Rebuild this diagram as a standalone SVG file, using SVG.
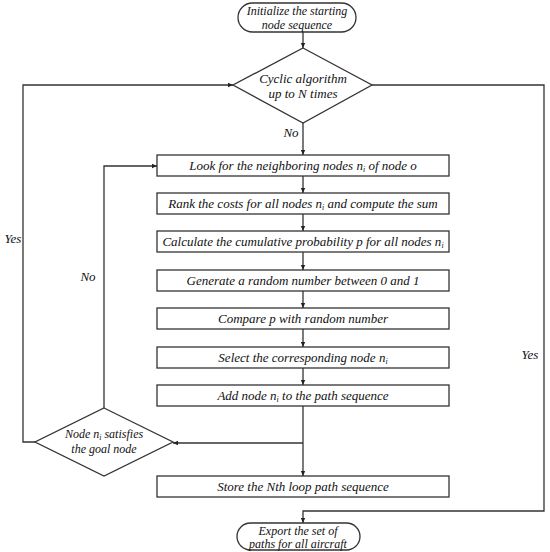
<svg xmlns="http://www.w3.org/2000/svg" width="550" height="552" viewBox="0 0 550 552">
<defs>
<marker id="ah" markerWidth="6" markerHeight="6" refX="5" refY="3" orient="auto" markerUnits="userSpaceOnUse">
<path d="M0,0.8 L5,3 L0,5.2 Z" fill="#222"/>
</marker>
<style>
.box{fill:#fff;stroke:#333;stroke-width:1.3}
.ln{fill:none;stroke:#333;stroke-width:1.3}
text{font-family:"Liberation Serif","Times New Roman",serif;font-style:italic;font-size:13px;fill:#111;text-anchor:middle}
.sm{font-size:12px}
.sub{font-size:8px}
</style>
</defs>
<rect width="550" height="552" fill="#fff"/>
<g id="connectors">
<line class="ln" x1="303" y1="32" x2="303" y2="48" marker-end="url(#ah)"/>
<line class="ln" x1="303" y1="123" x2="303" y2="155" marker-end="url(#ah)"/>
<line class="ln" x1="303" y1="176" x2="303" y2="193" marker-end="url(#ah)"/>
<line class="ln" x1="303" y1="214" x2="303" y2="231" marker-end="url(#ah)"/>
<line class="ln" x1="303" y1="252" x2="303" y2="270" marker-end="url(#ah)"/>
<line class="ln" x1="303" y1="291" x2="303" y2="308" marker-end="url(#ah)"/>
<line class="ln" x1="303" y1="329" x2="303" y2="347" marker-end="url(#ah)"/>
<line class="ln" x1="303" y1="368" x2="303" y2="385" marker-end="url(#ah)"/>
<line class="ln" x1="303" y1="406" x2="303" y2="476" marker-end="url(#ah)"/>
<polyline class="ln" points="303,443 173,443" marker-end="url(#ah)"/>
<polyline class="ln" points="104,408 104,166 157,166" marker-end="url(#ah)"/>
<polyline class="ln" points="35,442 23,442 23,85 233,85" marker-end="url(#ah)"/>
<polyline class="ln" points="372,85 544,85 544,511 303,511 303,523" marker-end="url(#ah)"/>
</g>
<g id="start">
<rect class="box" x="238" y="3" width="118" height="29" rx="14.5"/>
<text class="sm" x="297" y="15">Initialize the starting</text>
<text class="sm" x="297" y="28.5">node sequence</text>
</g>
<g id="cycle">
<polygon class="box" points="303,48 372,85 303,123 233,85"/>
<text x="303" y="83">Cyclic algorithm</text>
<text x="303" y="98">up to N times</text>
</g>
<g id="look">
<rect class="box" x="157" y="155" width="292" height="21"/>
<text x="303" y="170">Look for the neighboring nodes n<tspan class="sub" dy="2">i</tspan><tspan dy="-2"> of node o</tspan></text>
</g>
<g id="rank">
<rect class="box" x="157" y="193" width="292" height="21"/>
<text x="303" y="208">Rank the costs for all nodes n<tspan class="sub" dy="2">i</tspan><tspan dy="-2"> and compute the sum</tspan></text>
</g>
<g id="calc">
<rect class="box" x="157" y="231" width="292" height="21"/>
<text x="303" y="246">Calculate the cumulative probability p for all nodes n<tspan class="sub" dy="2">i</tspan></text>
</g>
<g id="gen">
<rect class="box" x="157" y="270" width="292" height="21"/>
<text x="303" y="285">Generate a random number between 0 and 1</text>
</g>
<g id="compare">
<rect class="box" x="157" y="308" width="292" height="21"/>
<text x="303" y="323">Compare p with random number</text>
</g>
<g id="select">
<rect class="box" x="157" y="347" width="292" height="21"/>
<text x="303" y="362">Select the corresponding node n<tspan class="sub" dy="2">i</tspan></text>
</g>
<g id="add">
<rect class="box" x="157" y="385" width="292" height="21"/>
<text x="303" y="400">Add node n<tspan class="sub" dy="2">i</tspan><tspan dy="-2"> to the path sequence</tspan></text>
</g>
<g id="goal">
<polygon class="box" points="104,408 173,442 104,476 35,442"/>
<text class="sm" x="104" y="438">Node n<tspan class="sub" dy="2">i</tspan><tspan dy="-2"> satisfies</tspan></text>
<text class="sm" x="104" y="453">the goal node</text>
</g>
<g id="store">
<rect class="box" x="157" y="476" width="292" height="21"/>
<text x="303" y="491">Store the Nth loop path sequence</text>
</g>
<g id="export">
<rect class="box" x="237" y="523" width="123" height="27" rx="13.5"/>
<text class="sm" x="298" y="535">Export the set of</text>
<text class="sm" x="298" y="548">paths for all aircraft</text>
</g>
<g id="labels">
<text x="291" y="137">No</text>
<text x="88" y="281">No</text>
<text x="13" y="243">Yes</text>
<text x="530" y="359">Yes</text>
</g>
</svg>
